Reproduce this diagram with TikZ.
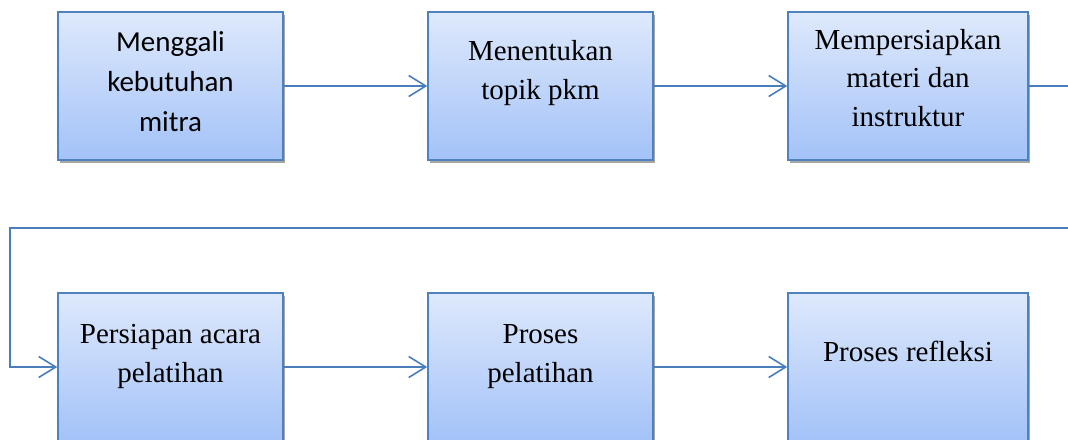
\documentclass[tikz,border=0pt]{standalone}
\usepackage{fontspec}
\setmainfont{Liberation Serif}
\newfontfamily\calibrifont{Carlito}
\usetikzlibrary{positioning, calc, shadows, arrows.meta}
\definecolor{boxline}{HTML}{4F81BD}
\definecolor{arrowline}{HTML}{4A7EBB}
\definecolor{boxtop}{HTML}{DEE9FC}
\definecolor{boxbottom}{HTML}{A3C2F8}

\begin{document}
\begin{tikzpicture}
        [
            x=1pt, y=-1pt,
            step box/.style={rectangle, draw=boxline, line width=1.5pt,
                             top color=boxtop, bottom color=boxbottom,
                             minimum width=#1, minimum height=148pt,
                             drop shadow={shadow xshift=2pt, shadow yshift=-2.5pt,
                                          fill=black, opacity=.35}},
            step box/.default=225pt,
            txt/.style={anchor=base, align=center, inner sep=0pt,
                        font=\fontsize{29}{38.5}\selectfont},
            flow/.style={draw=arrowline, line width=1.6pt,
                         -{Straight Barb[length=17pt, width=21pt, line width=1.6pt]}}
        ]
        \useasboundingbox (0,0) rectangle (1068,439);
        % first row
        \node (b1) [step box] at (170.5, 86) {};
        \node (b2) [step box] at (540.5, 86) {};
        \node (b3) [step box=240pt] at (908, 86) {};
        % second row
        \node (b4) [step box] at (170.5, 367) {};
        \node (b5) [step box] at (540.5, 367) {};
        \node (b6) [step box=240pt] at (908, 367) {};

        % texts, placed by the baseline of their last line
        \node (t1) [txt, font=\calibrifont\fontsize{29}{40}\selectfont]
            at ($(b1.north)+(0,120)$) {Menggali\\kebutuhan\\mitra};
        \node (t2) [txt] at ($(b2.north)+(0,88)$) {Menentukan\\topik pkm};
        \node (t3) [txt] at ($(b3.north)+(0,115)$) {Mempersiapkan\\materi dan\\instruktur};
        \node (t4) [txt] at ($(b4.north)+(0,90)$) {Persiapan acara\\pelatihan};
        \node (t5) [txt] at ($(b5.north)+(0,90)$) {Proses\\pelatihan};
        \node (t6) [txt] at ($(b6.north)+(0,69)$) {Proses refleksi};

        % connectors
        \coordinate (r1) at (1068, 86);
        \coordinate (r2) at (1068, 228);
        \coordinate (l2) at (10, 228);
        \draw [flow] (b1) -- (b2);
        \draw [flow] (b2) -- (b3);
        \draw [draw=arrowline, line width=1.6pt] (b3.east) -- (r1);
        \draw [flow] (r2) -- (l2) |- (b4.west);
        \draw [flow] (b4) -- (b5);
        \draw [flow] (b5) -- (b6);
\end{tikzpicture}
\end{document}
